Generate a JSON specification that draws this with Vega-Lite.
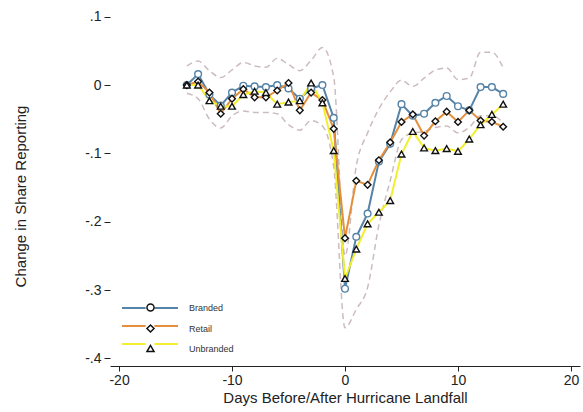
{
  "$schema": "https://vega.github.io/schema/vega-lite/v6.json",
  "width": 470,
  "height": 363,
  "autosize": {"type": "none"},
  "padding": {"left": 110, "top": 3, "right": 3, "bottom": 46},
  "background": "white",
  "config": {
    "view": {"stroke": null},
    "font": "Liberation Sans",
    "axisX": {
      "grid": false,
      "domain": true,
      "domainColor": "#222222",
      "tickColor": "#222222",
      "tickSize": 5,
      "labelFontSize": 14,
      "labelColor": "#222222",
      "labelPadding": 2,
      "titleFontSize": 15,
      "titleFontWeight": "normal",
      "titleColor": "#222222",
      "titlePadding": 3
    },
    "axisY": {
      "grid": false,
      "domain": false,
      "tickColor": "#222222",
      "tickSize": 6,
      "labelFontSize": 14,
      "labelColor": "#222222",
      "labelPadding": 3,
      "titleFontSize": 15,
      "titleFontWeight": "normal",
      "titleColor": "#222222",
      "titleX": -90,
      "titleY": 193,
      "titleBaseline": "middle"
    }
  },
  "datasets": {
    "series": [
      {"day": -14, "series": "Branded", "value": 0.0},
      {"day": -13, "series": "Branded", "value": 0.016},
      {"day": -12, "series": "Branded", "value": -0.014},
      {"day": -11, "series": "Branded", "value": -0.03},
      {"day": -10, "series": "Branded", "value": -0.011},
      {"day": -9, "series": "Branded", "value": -0.001},
      {"day": -8, "series": "Branded", "value": -0.002},
      {"day": -7, "series": "Branded", "value": -0.003},
      {"day": -6, "series": "Branded", "value": 0.0},
      {"day": -5, "series": "Branded", "value": -0.005},
      {"day": -4, "series": "Branded", "value": -0.02},
      {"day": -3, "series": "Branded", "value": -0.005},
      {"day": -2, "series": "Branded", "value": 0.0},
      {"day": -1, "series": "Branded", "value": -0.048},
      {"day": 0, "series": "Branded", "value": -0.298},
      {"day": 1, "series": "Branded", "value": -0.222},
      {"day": 2, "series": "Branded", "value": -0.188},
      {"day": 3, "series": "Branded", "value": -0.112},
      {"day": 4, "series": "Branded", "value": -0.086},
      {"day": 5, "series": "Branded", "value": -0.028},
      {"day": 6, "series": "Branded", "value": -0.045},
      {"day": 7, "series": "Branded", "value": -0.042},
      {"day": 8, "series": "Branded", "value": -0.026},
      {"day": 9, "series": "Branded", "value": -0.016},
      {"day": 10, "series": "Branded", "value": -0.031},
      {"day": 11, "series": "Branded", "value": -0.037},
      {"day": 12, "series": "Branded", "value": -0.003},
      {"day": 13, "series": "Branded", "value": -0.003},
      {"day": 14, "series": "Branded", "value": -0.013},
      {"day": -14, "series": "Retail", "value": 0.0},
      {"day": -13, "series": "Retail", "value": 0.005},
      {"day": -12, "series": "Retail", "value": -0.011},
      {"day": -11, "series": "Retail", "value": -0.042},
      {"day": -10, "series": "Retail", "value": -0.02},
      {"day": -9, "series": "Retail", "value": -0.006},
      {"day": -8, "series": "Retail", "value": -0.018},
      {"day": -7, "series": "Retail", "value": -0.018},
      {"day": -6, "series": "Retail", "value": -0.008},
      {"day": -5, "series": "Retail", "value": 0.003},
      {"day": -4, "series": "Retail", "value": -0.037},
      {"day": -3, "series": "Retail", "value": -0.011},
      {"day": -2, "series": "Retail", "value": -0.022},
      {"day": -1, "series": "Retail", "value": -0.064},
      {"day": 0, "series": "Retail", "value": -0.224},
      {"day": 1, "series": "Retail", "value": -0.14},
      {"day": 2, "series": "Retail", "value": -0.146},
      {"day": 3, "series": "Retail", "value": -0.11},
      {"day": 4, "series": "Retail", "value": -0.084},
      {"day": 5, "series": "Retail", "value": -0.054},
      {"day": 6, "series": "Retail", "value": -0.043},
      {"day": 7, "series": "Retail", "value": -0.074},
      {"day": 8, "series": "Retail", "value": -0.053},
      {"day": 9, "series": "Retail", "value": -0.039},
      {"day": 10, "series": "Retail", "value": -0.054},
      {"day": 11, "series": "Retail", "value": -0.037},
      {"day": 12, "series": "Retail", "value": -0.052},
      {"day": 13, "series": "Retail", "value": -0.054},
      {"day": 14, "series": "Retail", "value": -0.061},
      {"day": -14, "series": "Unbranded", "value": 0.0},
      {"day": -13, "series": "Unbranded", "value": 0.0},
      {"day": -12, "series": "Unbranded", "value": -0.023},
      {"day": -11, "series": "Unbranded", "value": -0.031},
      {"day": -10, "series": "Unbranded", "value": -0.031},
      {"day": -9, "series": "Unbranded", "value": -0.014},
      {"day": -8, "series": "Unbranded", "value": -0.009},
      {"day": -7, "series": "Unbranded", "value": -0.011},
      {"day": -6, "series": "Unbranded", "value": -0.028},
      {"day": -5, "series": "Unbranded", "value": -0.025},
      {"day": -4, "series": "Unbranded", "value": -0.023},
      {"day": -3, "series": "Unbranded", "value": 0.003},
      {"day": -2, "series": "Unbranded", "value": -0.026},
      {"day": -1, "series": "Unbranded", "value": -0.096},
      {"day": 0, "series": "Unbranded", "value": -0.283},
      {"day": 1, "series": "Unbranded", "value": -0.24},
      {"day": 2, "series": "Unbranded", "value": -0.203},
      {"day": 3, "series": "Unbranded", "value": -0.186},
      {"day": 4, "series": "Unbranded", "value": -0.169},
      {"day": 5, "series": "Unbranded", "value": -0.101},
      {"day": 6, "series": "Unbranded", "value": -0.068},
      {"day": 7, "series": "Unbranded", "value": -0.092},
      {"day": 8, "series": "Unbranded", "value": -0.096},
      {"day": 9, "series": "Unbranded", "value": -0.093},
      {"day": 10, "series": "Unbranded", "value": -0.097},
      {"day": 11, "series": "Unbranded", "value": -0.079},
      {"day": 12, "series": "Unbranded", "value": -0.058},
      {"day": 13, "series": "Unbranded", "value": -0.043},
      {"day": 14, "series": "Unbranded", "value": -0.028}
    ],
    "band": [
      {"day": -14, "upper": 0.028, "lower": -0.012},
      {"day": -13, "upper": 0.035, "lower": -0.02},
      {"day": -12, "upper": 0.021, "lower": -0.05},
      {"day": -11, "upper": 0.011, "lower": -0.063},
      {"day": -10, "upper": 0.022, "lower": -0.045},
      {"day": -9, "upper": 0.033, "lower": -0.038},
      {"day": -8, "upper": 0.028, "lower": -0.04},
      {"day": -7, "upper": 0.026, "lower": -0.04},
      {"day": -6, "upper": 0.039, "lower": -0.042},
      {"day": -5, "upper": 0.03, "lower": -0.058},
      {"day": -4, "upper": 0.021, "lower": -0.066},
      {"day": -3, "upper": 0.036, "lower": -0.052},
      {"day": -2, "upper": 0.055, "lower": -0.06},
      {"day": -1, "upper": 0.012, "lower": -0.12},
      {"day": 0, "upper": -0.25, "lower": -0.355},
      {"day": 1, "upper": -0.118, "lower": -0.328},
      {"day": 2, "upper": -0.07, "lower": -0.296},
      {"day": 3, "upper": -0.035, "lower": -0.205},
      {"day": 4, "upper": -0.01, "lower": -0.14},
      {"day": 5, "upper": 0.007, "lower": -0.08},
      {"day": 6, "upper": -0.002, "lower": -0.07},
      {"day": 7, "upper": 0.01, "lower": -0.068},
      {"day": 8, "upper": 0.022, "lower": -0.062},
      {"day": 9, "upper": 0.025, "lower": -0.06},
      {"day": 10, "upper": 0.008, "lower": -0.07},
      {"day": 11, "upper": 0.01, "lower": -0.062},
      {"day": 12, "upper": 0.048, "lower": -0.045},
      {"day": 13, "upper": 0.048, "lower": -0.045},
      {"day": 14, "upper": 0.025, "lower": -0.055}
    ]
  },
  "layer": [
    {
      "data": {"name": "band"},
      "mark": {"type": "line", "interpolate": "monotone", "strokeDash": [6, 4], "color": "#cdbcbe", "strokeWidth": 1.5},
      "encoding": {
        "x": {
          "field": "day", "type": "quantitative",
          "scale": {"domain": [-20.8, 20.8], "nice": false, "zero": false},
          "title": "Days Before/After Hurricane Landfall",
          "axis": {"values": [-20, -10, 0, 10, 20], "labelExpr": "datum.value < 0 ? '-' + abs(datum.value) : '' + datum.value"}
        },
        "y": {
          "field": "upper", "type": "quantitative",
          "scale": {"domain": [-0.411, 0.12], "nice": false, "zero": false},
          "title": "Change in Share Reporting",
          "axis": {"values": [-0.4, -0.3, -0.2, -0.1, 0, 0.1], "labelExpr": "datum.value == 0 ? '0' : (datum.value < 0 ? '-' : '') + '.' + round(abs(datum.value) * 10)"}
        }
      }
    },
    {
      "data": {"name": "band"},
      "mark": {"type": "line", "interpolate": "monotone", "strokeDash": [6, 4], "color": "#cdbcbe", "strokeWidth": 1.5},
      "encoding": {
        "x": {"field": "day", "type": "quantitative", "title": "Days Before/After Hurricane Landfall"},
        "y": {"field": "lower", "type": "quantitative", "title": "Change in Share Reporting"}
      }
    },
    {
      "mark": {"type": "rule", "color": "#d9587a", "strokeWidth": 1.5},
      "encoding": {"y": {"datum": 0}}
    },
    {
      "mark": {"type": "rule", "color": "#111111", "strokeDash": [7, 4], "strokeWidth": 1.8},
      "encoding": {"x": {"datum": 0}}
    },
    {
      "data": {"name": "series"},
      "mark": {"type": "line", "strokeWidth": 2},
      "encoding": {
        "x": {"field": "day", "type": "quantitative", "title": "Days Before/After Hurricane Landfall"},
        "y": {"field": "value", "type": "quantitative", "title": "Change in Share Reporting"},
        "color": {
          "field": "series",
          "type": "nominal",
          "scale": {"domain": ["Branded", "Retail", "Unbranded"], "range": ["#5683a8", "#e58f3c", "#f3ef2e"]},
          "legend": {
            "orient": "none",
            "legendX": 35,
            "legendY": 300,
            "title": null,
            "padding": 0,
            "symbolType": "M-7,0L-1.1,0M1.1,0L7,0",
            "symbolSize": 64,
            "symbolStrokeWidth": 2,
            "labelFontSize": 9,
            "labelExpr": "''",
            "rowPadding": 8
          }
        }
      }
    },
    {
      "data": {"name": "series"},
      "mark": {"type": "point", "filled": true, "fill": "white", "size": 45, "strokeWidth": 1.4, "opacity": 1},
      "encoding": {
        "x": {"field": "day", "type": "quantitative", "title": "Days Before/After Hurricane Landfall"},
        "y": {"field": "value", "type": "quantitative", "title": "Change in Share Reporting"},
        "shape": {
          "field": "series",
          "type": "nominal",
          "scale": {"range": ["circle", "diamond", "triangle-up"]},
          "legend": {
            "orient": "none",
            "legendX": 36,
            "legendY": 300,
            "title": null,
            "padding": 0,
            "symbolSize": 50,
            "symbolFillColor": "white",
            "symbolStrokeWidth": 1.5,
            "labelFontSize": 9,
            "labelColor": "#333333",
            "labelOffset": 34,
            "rowPadding": 6,
            "encode": {"symbols": {"update": {"stroke": {"signal": "datum.value === 'Branded' ? '#5683a8' : '#111111'"}}}}
          }
        },
        "stroke": {"condition": {"test": "datum.series === 'Branded'", "value": "#5683a8"}, "value": "#111111"}
      }
    }
  ]
}
